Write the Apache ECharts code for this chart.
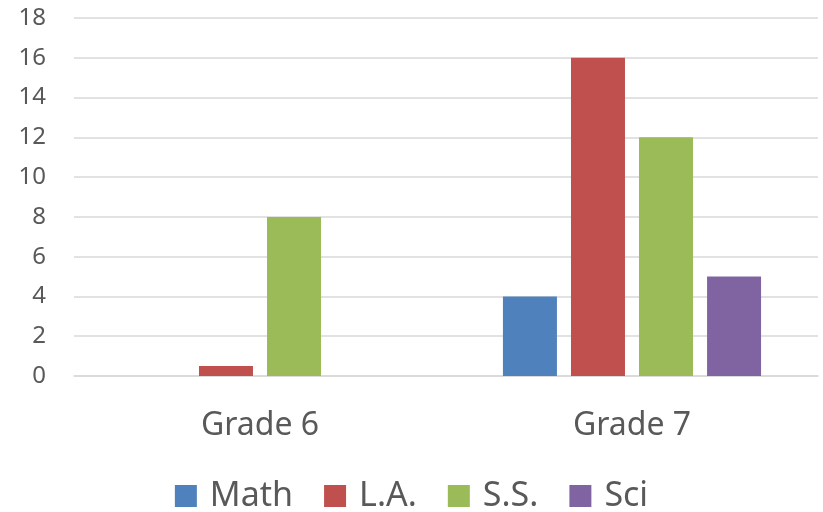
<!DOCTYPE html>
<html>
<head>
<meta charset="utf-8">
<script src="https://cdn.jsdelivr.net/npm/echarts@6/dist/echarts.min.js"></script>
<style>
  html, body { margin: 0; padding: 0; background: #fff; }
  #chart { width: 823px; height: 512px; }
</style>
</head>
<body>
<div id="chart"></div>
<script>
// Grade-level counts per subject
const categories = ['Grade 6', 'Grade 7'];
const seriesNames = ['Math', 'L.A.', 'S.S.', 'Sci'];
const mathValues = [0, 4];
const laValues = [0.5, 16];
const ssValues = [8, 12];
const sciValues = [0, 5];
const yTicks = [0, 2, 4, 6, 8, 10, 12, 14, 16, 18];

const colors = ['#4F81BD', '#C0504D', '#9BBB59', '#8064A2'];
const valuesBySeries = [mathValues, laValues, ssValues, sciValues];
const font = '"Noto Sans", "Open Sans", sans-serif';
const textColor = '#595959';

const chart = echarts.init(document.getElementById('chart'), null, { renderer: 'canvas' });

chart.setOption({
  animation: false,
  backgroundColor: '#ffffff',
  grid: { left: 74, right: 5, top: 18, bottom: 136, containLabel: false },
  legend: {
    bottom: -6,
    left: 'center',
    icon: 'rect',
    itemWidth: 22,
    itemHeight: 22,
    itemGap: 31,
    textStyle: { fontFamily: font, fontSize: 34, color: textColor, padding: [0, 0, 0, 8] },
    data: seriesNames
  },
  xAxis: {
    type: 'category',
    data: categories,
    axisLine: { show: true, lineStyle: { color: '#d9d9d9', width: 1.5 } },
    axisTick: { show: false },
    axisLabel: { fontFamily: font, fontSize: 32, color: textColor, margin: 34 }
  },
  yAxis: {
    type: 'value',
    min: yTicks[0],
    max: yTicks[yTicks.length - 1],
    interval: yTicks[1] - yTicks[0],
    axisLine: { show: false },
    axisTick: { show: false },
    splitLine: { lineStyle: { color: '#d9d9d9', width: 1.5 } },
    axisLabel: { fontFamily: font, fontSize: 24, color: textColor, margin: 28 }
  },
  series: seriesNames.map((name, i) => ({
    name: name,
    type: 'bar',
    data: valuesBySeries[i],
    barWidth: 54,
    barGap: '26%',
    itemStyle: { color: colors[i] }
  }))
});
</script>
</body>
</html>
